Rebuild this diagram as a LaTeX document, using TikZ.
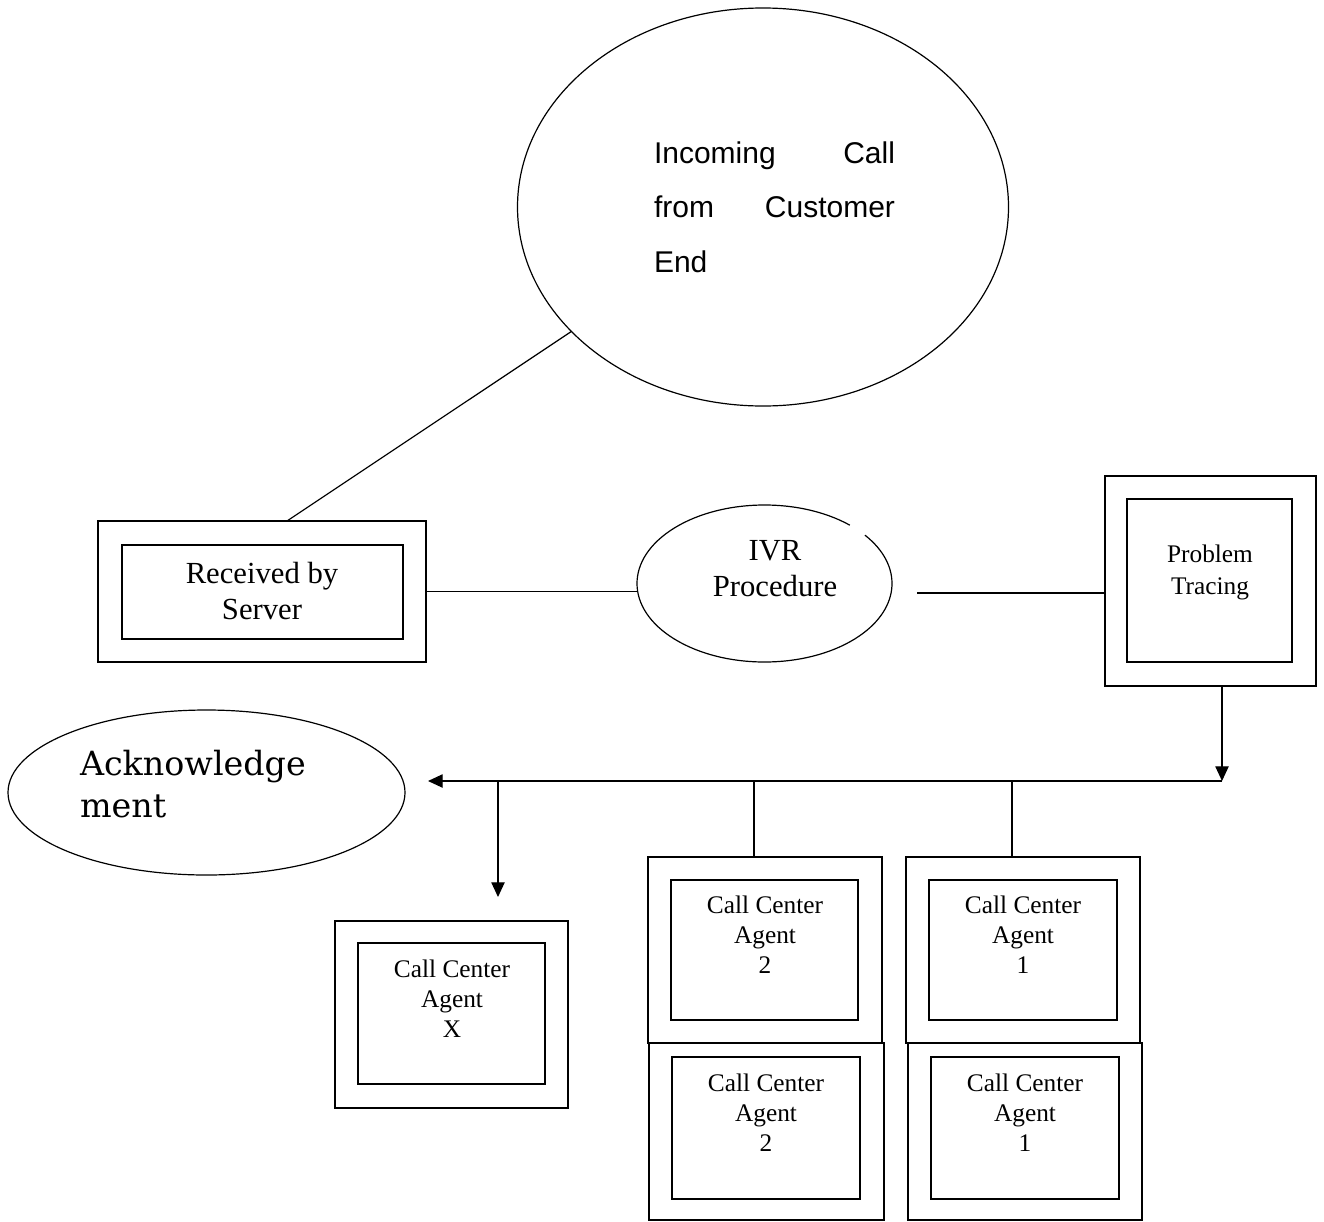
\documentclass[tikz,border=0pt]{standalone}
\usepackage{fontspec}
\setmainfont{Liberation Serif}
\newfontfamily\arialf{Liberation Sans}
\newfontfamily\ackf{DejaVu Serif}
\usetikzlibrary{shapes.geometric,arrows.meta,fit}
\begin{document}
\begin{tikzpicture}[x=0.75pt,y=-0.75pt,line width=0.9pt,
  frame/.style={draw,rectangle,inner sep=0pt,outer sep=0pt},
  oval/.style={draw,ellipse,inner sep=0pt,outer sep=0pt},
  lbl/.style={anchor=base,inner sep=0pt,outer sep=0pt},
  bigtxt/.style={font=\fontsize{23}{27.5}\selectfont},
  midtxt/.style={font=\fontsize{19}{22.5}\selectfont},
  tip/.style={-{Triangle[length=11pt,width=10pt]}}]
\useasboundingbox (0,0) rectangle (1324,1221);

% incoming call ellipse
\node[oval,minimum width=368.25pt,minimum height=298.5pt] (call) at (763,207) {};
\node[lbl,anchor=base west] (calltxt) at (654,163)
  {\parbox[t]{180.75pt}{\arialf\fontsize{22.5}{40.9}\selectfont Incoming\hfill Call\\from\hfill Customer\\End}};

% received by server
\node[frame,fit={(98,521)(426,662)}] (recvO) {};
\node[frame,fit={(122,545)(403,639)}] (recvI) {};
\node[lbl,bigtxt] (recvtxt) at (262,583) {\parbox[t]{200pt}{\centering Received by\\Server}};

% IVR procedure (ellipse with small gap)
\node[ellipse,inner sep=0pt,outer sep=0pt,minimum width=191.25pt,minimum height=117.75pt] (ivr) at (764.5,583.5) {};
\draw ([shift={(48:95.625pt and 58.875pt)}]ivr.center) arc[start angle=48,end angle=398,x radius=95.625pt,y radius=58.875pt];
\node[lbl,bigtxt] (ivrtxt) at (775,560) {\parbox[t]{160pt}{\centering IVR\\Procedure}};

% problem tracing
\node[frame,fit={(1105,476)(1316,686)}] (probO) {};
\node[frame,fit={(1127,499)(1292,662)}] (probI) {};
\node[lbl,midtxt] (probtxt) at (1210,562) {\parbox[t]{150pt}{\centering Problem\\[1.5pt]Tracing}};

% acknowledgement
\node[oval,minimum width=297.75pt,minimum height=123.75pt] (ack) at (206.5,792.5) {};
\node[lbl,anchor=base west] (acktxt) at (80,775)
  {\parbox[t]{250pt}{\raggedright\ackf\fontsize{25}{31.5}\selectfont Acknowledge\\ment}};

% agent X
\node[frame,fit={(335,921)(568,1108)}] (axO) {};
\node[frame,fit={(358,943)(545,1084)}] (axI) {};
\node[lbl,midtxt] (axtxt) at (452,977) {\parbox[t]{150pt}{\centering Call Center\\Agent\\X}};

% agent 2 upper / lower
\node[frame,fit={(648,857)(882,1043)}] (a2uO) {};
\node[frame,fit={(671,880)(858,1020)}] (a2uI) {};
\node[lbl,midtxt] (a2utxt) at (765,913) {\parbox[t]{150pt}{\centering Call Center\\Agent\\2}};
\node[frame,fit={(649,1043)(884,1220)}] (a2lO) {};
\node[frame,fit={(672,1057)(860,1199)}] (a2lI) {};
\node[lbl,midtxt] (a2ltxt) at (766,1091) {\parbox[t]{150pt}{\centering Call Center\\Agent\\2}};

% agent 1 upper / lower
\node[frame,fit={(906,857)(1140,1043)}] (a1uO) {};
\node[frame,fit={(929,880)(1117,1020)}] (a1uI) {};
\node[lbl,midtxt] (a1utxt) at (1023,913) {\parbox[t]{150pt}{\centering Call Center\\Agent\\1}};
\node[frame,fit={(908,1043)(1142,1220)}] (a1lO) {};
\node[frame,fit={(931,1057)(1119,1199)}] (a1lI) {};
\node[lbl,midtxt] (a1ltxt) at (1025,1091) {\parbox[t]{150pt}{\centering Call Center\\Agent\\1}};

% connectors
\draw (call.213) -- ([xshift=18.75pt]recvO.north);
\draw (recvO.east) -- (recvO.east -| ivr.west);
\coordinate (ivrgap) at (917,593);
\draw (ivrgap) -- (ivrgap -| probO.west);
\coordinate (junR) at (1222,781);
\draw[tip] (junR |- probO.south) -- (junR);
\coordinate (ackend) at (428,781);
\draw[tip] (junR) -- (ackend);
\coordinate (junX) at (498,781);
\coordinate (tipX) at (498,897);
\draw[tip] (junX) -- (tipX);
\coordinate (jun2) at (754,781);
\draw (jun2) -- (jun2 |- a2uO.north);
\coordinate (jun1) at (1012,781);
\draw (jun1) -- (jun1 |- a1uO.north);
\end{tikzpicture}
\end{document}
